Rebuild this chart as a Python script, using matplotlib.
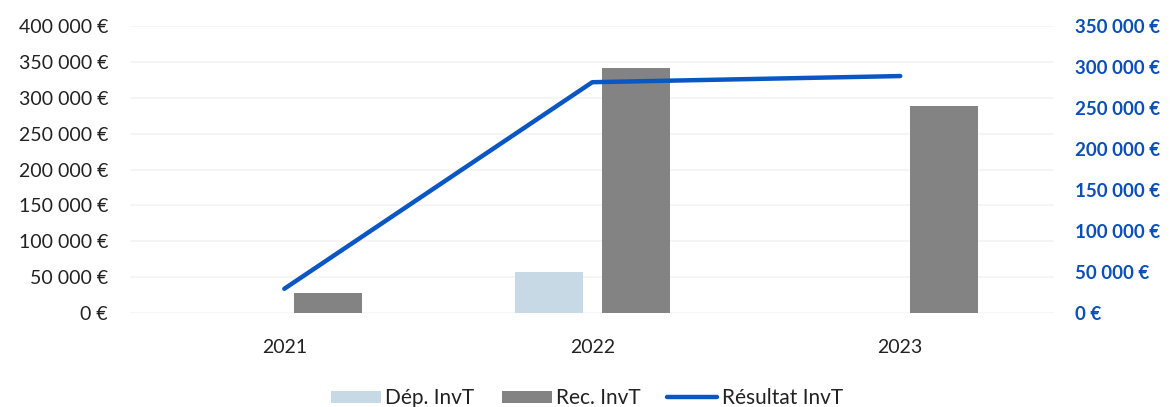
import matplotlib
matplotlib.use('Agg')
import matplotlib.pyplot as plt
import numpy as np
from matplotlib.ticker import FuncFormatter

years = ['2021', '2022', '2023']
dep_invt = [0, 57000, 0]
rec_invt = [28000, 341500, 288500]
resultat_invt = [29500, 281500, 289000]

plt.rcParams['font.family'] = ['Lato', 'DejaVu Sans']

@FuncFormatter
def euros(x, pos):
    return '{:,.0f} €'.format(x).replace(',', ' ')

fig = plt.figure(figsize=(11.74, 4.07), dpi=100)
ax = fig.add_axes([0.111, 0.231, 0.787, 0.705])
ax2 = ax.twinx()

x = np.arange(len(years))
w = 0.22
off = 0.141
ax.bar(x - off, dep_invt, w, color='#c6d9e4', label='Dép. InvT', zorder=2)
ax.bar(x + off, rec_invt, w, color='#838383', label='Rec. InvT', zorder=2)
ax2.plot(x, resultat_invt, color='#0a56c2', lw=3.2, solid_capstyle='round',
         label='Résultat InvT', zorder=3)

ax.set_xlim(-0.5, 2.5)
ax.set_ylim(0, 400000)
ax.set_yticks(np.arange(0, 400001, 50000))
ax2.set_ylim(0, 350000)
ax2.set_yticks(np.arange(0, 350001, 50000))
ax.yaxis.set_major_formatter(euros)
ax2.yaxis.set_major_formatter(euros)
ax.set_xticks(x)
ax.set_xticklabels(years)

ax.grid(axis='y', color='#f3f3f3', lw=1.2, zorder=0)
for a in (ax, ax2):
    for s in a.spines.values():
        s.set_visible(False)
ax.tick_params(axis='both', length=0, labelsize=14, colors='#222222')
ax.tick_params(axis='y', pad=16)
ax.tick_params(axis='x', pad=19)
ax2.tick_params(axis='y', length=0, labelsize=13.5, colors='#0a4fb8', pad=15)
for lab in ax2.get_yticklabels():
    lab.set_fontweight('bold')

h1, l1 = ax.get_legend_handles_labels()
h2, l2 = ax2.get_legend_handles_labels()
fig.legend(h1 + h2, l1 + l2, loc='center', bbox_to_anchor=(0.5, 0.022), ncol=3,
           frameon=False, fontsize=15, handlelength=2.4, handleheight=0.5,
           handletextpad=0.2, columnspacing=1.3, labelcolor='#222222')

fig.savefig('out.png', dpi=100)
